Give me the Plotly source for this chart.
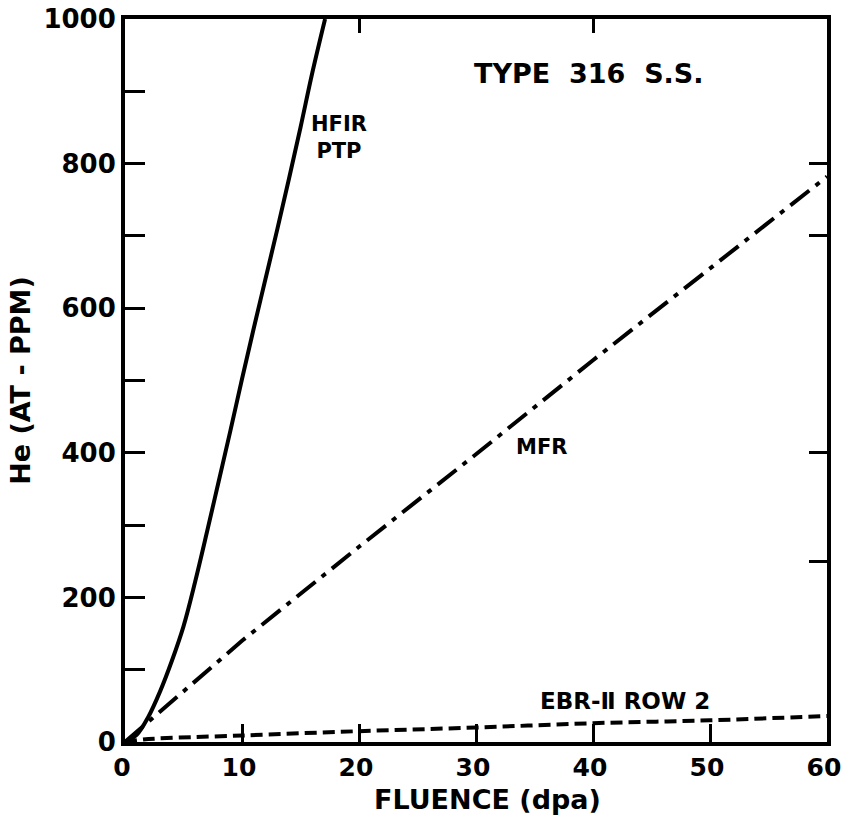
import plotly.graph_objects as go

# Helium generation in Type 316 stainless steel versus displacement damage
hfir_dpa = [0, 1, 2, 3, 4, 5, 6, 7, 8, 9, 10, 11, 12, 13, 14, 15, 16, 17.1]
hfir_he = [0, 10, 35, 70, 112, 160, 222, 290, 360, 430, 502, 572, 640, 708, 778, 850, 925, 1000]

mfr_dpa = [0, 10, 20, 30, 40, 50, 60]
mfr_he = [0, 140, 270, 398, 528, 655, 782]

ebr_dpa = [0, 2, 10, 20, 30, 40, 50, 60]
ebr_he = [0, 4, 9, 15, 20, 26, 30, 36]

x_ticks = [0, 10, 20, 30, 40, 50, 60]
y_ticks = [0, 200, 400, 600, 800, 1000]
y_minor = [100, 300, 500, 700, 900]
top_ticks = [20, 40]
right_ticks = [250, 400, 700, 800]

FONT = "DejaVu Sans"
INK = "black"

fig = go.Figure()
fig.add_trace(go.Scatter(x=hfir_dpa, y=hfir_he, mode="lines", line_shape="spline",
                         line=dict(color=INK, width=4), showlegend=False))
fig.add_trace(go.Scatter(x=mfr_dpa, y=mfr_he, mode="lines",
                         line=dict(color=INK, width=4, dash="24px,8px,5px,8px"), showlegend=False))
fig.add_trace(go.Scatter(x=ebr_dpa, y=ebr_he, mode="lines", line_shape="spline",
                         line=dict(color=INK, width=4, dash="12px,6px"), showlegend=False))
# invisible trace to activate the mirror axes
fig.add_trace(go.Scatter(x=[0], y=[0], xaxis="x2", yaxis="y2", mode="markers",
                         marker=dict(opacity=0), showlegend=False, hoverinfo="skip"))

fig.update_layout(
    width=843, height=817,
    margin=dict(l=125, r=16, t=19, b=75),
    paper_bgcolor="white", plot_bgcolor="white",
    xaxis=dict(range=[0, 60], tickvals=x_ticks, ticks="inside", ticklen=18, tickwidth=3,
               tickcolor=INK, showline=True, linecolor=INK, linewidth=4, showgrid=False,
               zeroline=False, ticklabeloverflow="allow", automargin=False, ticklabelshift=-3,
               tickfont=dict(family=FONT, size=25, color=INK, weight="bold")),
    yaxis=dict(range=[0, 1000], tickvals=y_ticks, ticks="inside", ticklen=20, tickwidth=3,
               tickcolor=INK, showline=True, linecolor=INK, linewidth=4, showgrid=False,
               zeroline=False, ticklabeloverflow="allow", automargin=False,
               tickfont=dict(family=FONT, size=26, color=INK, weight="bold"),
               minor=dict(tickvals=y_minor, ticks="inside", ticklen=20, tickwidth=3, tickcolor=INK),
               title=dict(text="He (AT - PPM)", font=dict(family=FONT, size=27, color=INK, weight="bold"),
                          standoff=6)),
    xaxis2=dict(range=[0, 60], overlaying="x", side="top", tickvals=top_ticks, ticks="inside",
                ticklen=14, tickwidth=3, tickcolor=INK, showticklabels=False, showline=True,
                linecolor=INK, linewidth=4, showgrid=False, zeroline=False, automargin=False),
    yaxis2=dict(range=[0, 1000], overlaying="y", side="right", tickvals=right_ticks, ticks="inside",
                ticklen=18, tickwidth=3, tickcolor=INK, showticklabels=False, showline=True,
                linecolor=INK, linewidth=4, showgrid=False, zeroline=False, automargin=False),
)

# x-axis title
fig.add_annotation(x=0.516, y=-0.08, xref="paper", yref="paper", text="FLUENCE (dpa)",
                   showarrow=False, xanchor="center", yanchor="middle",
                   font=dict(family=FONT, size=27, color=INK, weight="bold"))

fig.add_annotation(x=39.7, y=924, text="TYPE  316  S.S.", showarrow=False,
                   font=dict(family=FONT, size=27, color=INK, weight="bold"))
fig.add_annotation(x=18.3, y=836, text="HFIR<br>PTP", showarrow=False,
                   font=dict(family=FONT, size=21, color=INK, weight="bold"), align="center")
fig.add_annotation(x=35.6, y=408, text="MFR", showarrow=False,
                   font=dict(family=FONT, size=21, color=INK, weight="bold"))
fig.add_annotation(x=42.7, y=57, text="EBR-Ⅱ ROW 2", showarrow=False,
                   font=dict(family=FONT, size=23, color=INK, weight="bold"))

fig.write_html("out.html")
